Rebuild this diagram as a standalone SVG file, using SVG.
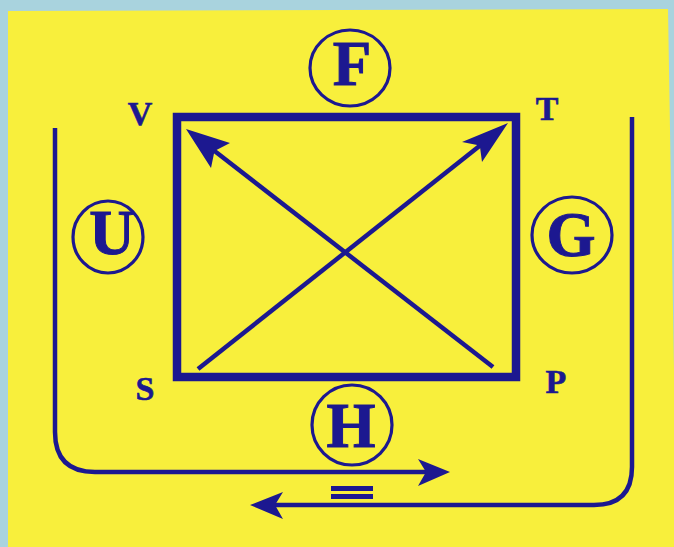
<svg xmlns="http://www.w3.org/2000/svg" width="674" height="547" viewBox="0 0 674 547">
<style>
.ln{fill:none;stroke:#1c1890;stroke-linecap:butt;stroke-linejoin:miter}
.ah{fill:#1c1890;stroke:none}
.ring{fill:none;stroke:#1c1890;stroke-width:3.2}
.big{font-family:"Liberation Serif","Times New Roman",serif;font-weight:bold;font-size:63px;fill:#1c1890;stroke:#1c1890;stroke-width:1;text-anchor:middle}
.lab{font-family:"Liberation Serif","Times New Roman",serif;font-weight:bold;font-size:34px;fill:#1c1890;stroke:#1c1890;stroke-width:0.6;text-anchor:middle}
</style>
<rect x="0" y="0" width="674" height="547" fill="#a9d3de"/>
<polygon points="8,11 668,9 674,370 674,547 8,547" fill="#f8ef3c"/>
<g id="square">
<rect x="177" y="117" width="339" height="260" class="ln" stroke-width="8.5"/>
</g>
<g id="connectors">
<line x1="198" y1="369" x2="482" y2="144" class="ln" stroke-width="4.5"/>
<polygon points="508,123 482,162 479.8,145.4 462,142" class="ah"/>
<line x1="493" y1="367" x2="212" y2="149" class="ln" stroke-width="4.5"/>
<polygon points="186,129 230,143 214.5,151.1 211,168" class="ah"/>
<path d="M55,128 V432 Q55,472 95,472 H428" class="ln" stroke-width="4.5"/>
<polygon points="450,472 418,459 426,472 418,486" class="ah"/>
<path d="M632,117 V467 Q632,505 594,505 H273" class="ln" stroke-width="4.5"/>
<polygon points="250,505 283,492 275,505 283,519" class="ah"/>
</g>
<g id="node-F">
<ellipse cx="350" cy="68" rx="40" ry="38" class="ring"/>
<text x="352" y="85" class="big">F</text>
</g>
<g id="node-U">
<ellipse cx="108" cy="237" rx="35" ry="36" class="ring"/>
<text x="112" y="254" class="big">U</text>
</g>
<g id="node-G">
<ellipse cx="572" cy="235" rx="40" ry="38" class="ring"/>
<text x="571" y="256" class="big">G</text>
</g>
<g id="node-H">
<ellipse cx="352" cy="425" rx="40" ry="40" class="ring"/>
<text x="351" y="447" class="big">H</text>
</g>
<g id="labels">
<text x="140" y="125" class="lab">V</text>
<text x="547" y="120" class="lab">T</text>
<text x="145" y="400" class="lab">S</text>
<text x="556" y="393" class="lab">P</text>
</g>
<g id="equals">
<rect x="331" y="486" width="42" height="5" class="ah"/>
<rect x="331" y="494" width="42" height="5" class="ah"/>
</g>
</svg>
